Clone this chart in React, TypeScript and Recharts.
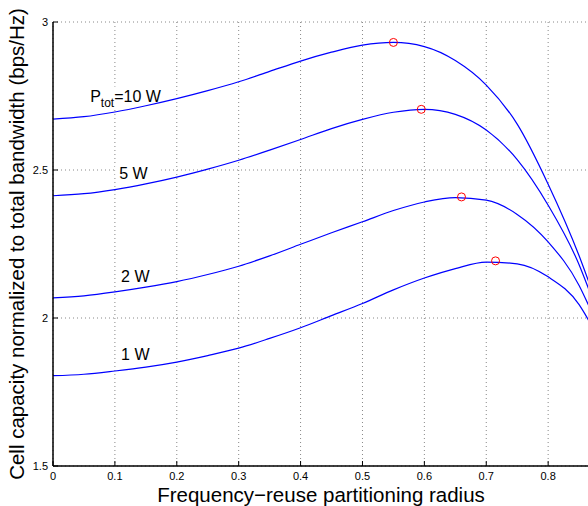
import {
  CartesianGrid,
  ComposedChart,
  Line,
  ReferenceDot,
  Scatter,
  XAxis,
  YAxis,
} from "recharts";

// partitioning radius (x) and cell capacity per total power (y)
const radius = [0, 0.05, 0.1, 0.15, 0.2, 0.25, 0.3, 0.35, 0.4, 0.45, 0.5, 0.55, 0.6, 0.65, 0.7, 0.75, 0.8, 0.85, 0.866];
const cap10W = [2.672, 2.68, 2.696, 2.717, 2.741, 2.768, 2.798, 2.833, 2.868, 2.898, 2.922, 2.931, 2.917, 2.87, 2.787, 2.655, 2.452, 2.21, 2.12];
const cap5W = [2.413, 2.42, 2.434, 2.453, 2.476, 2.503, 2.533, 2.567, 2.603, 2.64, 2.671, 2.695, 2.705, 2.688, 2.635, 2.535, 2.381, 2.18, 2.095];
const cap2W = [2.068, 2.075, 2.088, 2.104, 2.123, 2.147, 2.175, 2.21, 2.249, 2.288, 2.325, 2.363, 2.392, 2.407, 2.398, 2.35, 2.257, 2.11, 2.04];
const cap1W = [1.805, 1.81, 1.821, 1.834, 1.851, 1.873, 1.898, 1.931, 1.967, 2.008, 2.049, 2.095, 2.135, 2.167, 2.189, 2.183, 2.139, 2.045, 1.99];

// optimum radius marked with a red circle on each curve
const peakRadius = [0.55, 0.595, 0.66, 0.715];
const peakCapacity = [2.931, 2.705, 2.409, 2.193];

const powerLabels = ["10 W", "5 W", "2 W", "1 W"];
const xTicks = [0, 0.1, 0.2, 0.3, 0.4, 0.5, 0.6, 0.7, 0.8];
const yTicks = [1.5, 2, 2.5, 3];

const rows = radius.map((x, i) => ({
  x,
  p10: cap10W[i],
  p5: cap5W[i],
  p2: cap2W[i],
  p1: cap1W[i],
}));
const peaks = peakRadius.map((x, i) => ({ x, cap: peakCapacity[i] }));

// where each curve label sits (text start, baseline), in data units;
// the white patch only hides the grid behind the text
const labelSpots = [
  { x: 0.06, y: 2.731, patch: { dx: -4, dy: -15, w: 45, h: 21 } },
  { x: 0.107, y: 2.47, patch: { dx: -4, dy: -14, w: 46, h: 10 } },
  { x: 0.11, y: 2.123, patch: null },
  { x: 0.11, y: 1.858, patch: null },
];

const FONT = "'Liberation Sans', Arial, sans-serif";
const TICK = 5;

const BottomTick = (p: any) => (
  <g>
    <line x1={p.x} y1={p.y} x2={p.x} y2={p.y - TICK} stroke="#000" />
    <text x={p.x} y={p.y + 14} textAnchor="middle" fontSize={11} fontFamily={FONT} fill="#000">
      {String(p.payload.value)}
    </text>
  </g>
);

const TopTick = (p: any) => (
  <line x1={p.x} y1={p.y} x2={p.x} y2={p.y + TICK} stroke="#000" />
);

const LeftTick = (p: any) => (
  <g>
    <line x1={p.x} y1={p.y} x2={p.x + TICK} y2={p.y} stroke="#000" />
    <text x={p.x - 5} y={p.y + 4} textAnchor="end" fontSize={11} fontFamily={FONT} fill="#000">
      {String(p.payload.value)}
    </text>
  </g>
);

const RightTick = (p: any) => (
  <line x1={p.x} y1={p.y} x2={p.x - TICK} y2={p.y} stroke="#000" />
);

const CurveLabel = ({ cx, cy, text, patch, first }: any) => (
  <g>
    {patch && (
      <rect x={cx + patch.dx} y={cy + patch.dy} width={patch.w} height={patch.h} fill="#fff" />
    )}
    <text x={cx} y={cy} fontSize={16} fontFamily={FONT} fill="#000">
      {first ? (
        <>
          <tspan>P</tspan>
          <tspan fontSize={12} dy={5}>tot</tspan>
          <tspan dy={-5}>={text}</tspan>
        </>
      ) : (
        text
      )}
    </text>
  </g>
);

const PeakMark = ({ cx, cy }: any) => (
  <circle cx={cx} cy={cy} r={4} fill="none" stroke="#ff0000" strokeWidth={1} />
);

export default function App() {
  return (
    <div
      style={{
        position: "fixed",
        left: 0,
        top: 0,
        width: 588,
        height: 506,
        overflow: "hidden",
        background: "#fff",
        fontFamily: FONT,
      }}
    >
      <ComposedChart
        width={600}
        height={506}
        data={rows}
        margin={{ top: 22, right: 11, bottom: 0, left: 8 }}
      >
        <CartesianGrid stroke="#888" strokeDasharray="1 3" />
        <XAxis
          dataKey="x"
          type="number"
          domain={[0, 0.866]}
          ticks={xTicks}
          interval={0}
          height={40}
          tickSize={0}
          tickMargin={0}
          tick={BottomTick}
          axisLine={{ stroke: "#000", strokeWidth: 1.5 }}
          label={{
            value: "Frequency−reuse partitioning radius",
            position: "insideBottom",
            offset: 4,
            fontSize: 20.5,
            fill: "#000",
            fontFamily: FONT,
          }}
        />
        <XAxis
          xAxisId="top"
          dataKey="x"
          type="number"
          orientation="top"
          domain={[0, 0.866]}
          ticks={xTicks}
          interval={0}
          height={0}
          tickSize={0}
          tickMargin={0}
          tick={TopTick}
          axisLine={{ stroke: "#000", strokeWidth: 1.5 }}
        />
        <YAxis
          type="number"
          domain={[1.5, 3]}
          ticks={yTicks}
          interval={0}
          width={45}
          tickSize={0}
          tickMargin={0}
          tick={LeftTick}
          axisLine={{ stroke: "#000", strokeWidth: 1.5 }}
          label={{
            value: "Cell capacity normalized to total bandwidth (bps/Hz)",
            angle: -90,
            position: "insideLeft",
            offset: 9,
            fontSize: 20.5,
            fill: "#000",
            fontFamily: FONT,
            style: { textAnchor: "middle" },
          }}
        />
        <YAxis
          yAxisId="right"
          type="number"
          orientation="right"
          domain={[1.5, 3]}
          ticks={yTicks}
          interval={0}
          width={0}
          tickSize={0}
          tickMargin={0}
          tick={RightTick}
          axisLine={{ stroke: "#000", strokeWidth: 1.5 }}
        />
        <Line type="monotone" dataKey="p10" stroke="#0000ff" strokeWidth={1.2} dot={false} isAnimationActive={false} />
        <Line type="monotone" dataKey="p5" stroke="#0000ff" strokeWidth={1.2} dot={false} isAnimationActive={false} />
        <Line type="monotone" dataKey="p2" stroke="#0000ff" strokeWidth={1.2} dot={false} isAnimationActive={false} />
        <Line type="monotone" dataKey="p1" stroke="#0000ff" strokeWidth={1.2} dot={false} isAnimationActive={false} />
        <Scatter data={peaks} dataKey="cap" shape={PeakMark} isAnimationActive={false} />
        {labelSpots.map((s, i) => (
          <ReferenceDot
            key={powerLabels[i]}
            x={s.x}
            y={s.y}
            r={0}
            shape={(props: any) => (
              <CurveLabel cx={props.cx} cy={props.cy} text={powerLabels[i]} patch={s.patch} first={i === 0} />
            )}
          />
        ))}
      </ComposedChart>
    </div>
  );
}
